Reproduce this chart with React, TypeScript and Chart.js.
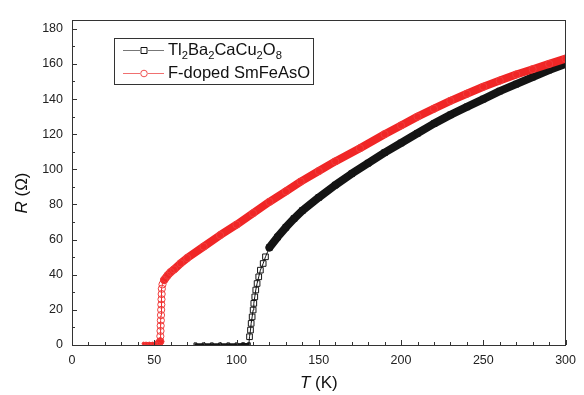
import React, { useEffect, useRef } from "react";
import { Chart, registerables } from "chart.js";

Chart.register(...registerables);

// Tl2Ba2CaCu2O8 (black open squares)
const T_TBCCO = [75, 80, 85, 90, 95, 100, 104, 107.5, 107.9, 108.5, 108.9, 109.5, 110.1, 110.5, 111.1, 111.7, 112.5, 113.5, 114.5, 116.2, 117.6, 120, 125, 130, 135, 140, 150, 160, 170, 180, 190, 200, 210, 220, 230, 240, 250, 260, 270, 280, 290, 300];
const R_TBCCO = [0.4, 0.4, 0.4, 0.4, 0.4, 0.4, 0.5, 0.5, 4.7, 8.5, 12.3, 16, 19.9, 23.7, 27.4, 31.3, 35, 38.8, 42.6, 46.4, 50.2, 55.5, 61.5, 67, 72, 76.5, 84, 91, 97.5, 103.5, 109.5, 115, 120.5, 126, 131, 135.5, 140, 144.5, 148.5, 152.5, 156.5, 160];

// F-doped SmFeAsO (red open circles)
const T_SMFEASO = [43.5, 45, 47, 49, 51, 52.5, 53.6, 53.7, 53.8, 53.9, 54, 54.1, 54.2, 54.3, 54.4, 54.5, 54.6, 55, 56, 58, 60, 62, 66, 70, 80, 90, 100, 110, 120, 130, 139, 150, 160, 175, 190, 200, 210, 220, 230, 240, 250, 260, 270, 280, 290, 300];
const R_SMFEASO = [0.8, 0.8, 0.8, 0.8, 0.8, 0.8, 2, 5, 8, 11, 14, 17, 20, 23, 26, 29, 32, 34.5, 37, 39.5, 41.5, 43, 46.5, 49.5, 56, 62.5, 68.5, 75, 81.5, 87.5, 93, 99, 104.5, 112, 120, 125, 130, 134.5, 139, 143, 147, 150.5, 154, 157, 160, 163];

const SERIES_LABELS = ["Tl2Ba2CaCu2O8", "F-doped SmFeAsO"];
const X_TICKS = [0, 50, 100, 150, 200, 250, 300];
const Y_TICKS = [0, 20, 40, 60, 80, 100, 120, 140, 160, 180];

const FONT = "'Liberation Sans', Arial, sans-serif";
const RED = "rgb(240,38,38)";
const BLACK = "rgb(20,20,20)";

function steepWidth(values: number[], wide: number, flat: number) {
  return (ctx: any) => {
    const i0 = ctx.p0DataIndex;
    const i1 = ctx.p1DataIndex;
    if (values[i0] < 1 && values[i1] < 1) return flat;
    const dx = Math.abs(ctx.p1.x - ctx.p0.x);
    const dy = Math.abs(ctx.p1.y - ctx.p0.y);
    return dy > 2.2 * dx ? 1 : wide;
  };
}

function drawSubText(ctx: CanvasRenderingContext2D, text: string, x: number, y: number, size: number) {
  // digits following letters are drawn as subscripts
  let cx = x;
  const parts = text.match(/[A-Za-z\- ]+|\d+/g) || [];
  for (const p of parts) {
    if (/^\d+$/.test(p)) {
      ctx.font = `${size * 0.68}px ${FONT}`;
      ctx.fillText(p, cx, y + size * 0.32);
    } else {
      ctx.font = `${size}px ${FONT}`;
      ctx.fillText(p, cx, y);
    }
    cx += ctx.measureText(p).width;
  }
}

const decorPlugin = {
  id: "decor",
  afterDraw(chart: any) {
    const { ctx, chartArea: a, scales } = chart;
    const xs = scales.x;
    const ys = scales.y;
    ctx.save();
    // frame
    ctx.strokeStyle = "#333";
    ctx.lineWidth = 1;
    ctx.strokeRect(Math.round(a.left) + 0.5, Math.round(a.top) + 0.5, Math.round(a.right - a.left) - 1, Math.round(a.bottom - a.top));
    // ticks (inward)
    ctx.beginPath();
    for (let v = 0; v <= 300; v += 10) {
      const px = Math.round(xs.getPixelForValue(v)) + 0.5;
      const len = v % 50 === 0 ? 5 : 3;
      ctx.moveTo(px, a.bottom);
      ctx.lineTo(px, a.bottom - len);
    }
    for (let v = 0; v <= 180; v += 10) {
      const py = Math.round(ys.getPixelForValue(v)) + 0.5;
      const len = v % 20 === 0 ? 5 : 3;
      ctx.moveTo(a.left, py);
      ctx.lineTo(a.left + len, py);
    }
    ctx.stroke();

    // axis titles
    ctx.fillStyle = "#111";
    ctx.textBaseline = "middle";
    const tSize = 17;
    {
      const italic = `italic ${tSize}px ${FONT}`;
      const normal = `${tSize}px ${FONT}`;
      ctx.font = italic;
      const w1 = ctx.measureText("T").width;
      ctx.font = normal;
      const w2 = ctx.measureText(" (K)").width;
      const cx = (a.left + a.right) / 2;
      const x0 = cx - (w1 + w2) / 2;
      ctx.textAlign = "left";
      ctx.font = italic;
      ctx.fillText("T", x0, 383);
      ctx.font = normal;
      ctx.fillText(" (K)", x0 + w1, 383);
    }
    {
      ctx.save();
      ctx.translate(22, 193);
      ctx.rotate(-Math.PI / 2);
      const italic = `italic ${tSize}px ${FONT}`;
      const normal = `${tSize}px ${FONT}`;
      ctx.font = italic;
      const w1 = ctx.measureText("R").width;
      ctx.font = normal;
      const w2 = ctx.measureText(" (Ω)").width;
      const x0 = -(w1 + w2) / 2;
      ctx.textAlign = "left";
      ctx.font = italic;
      ctx.fillText("R", x0, 0);
      ctx.font = normal;
      ctx.fillText(" (Ω)", x0 + w1, 0);
      ctx.restore();
    }

    // legend
    const lx = 114, ly = 38, lw = 199, lh = 46;
    ctx.fillStyle = "#fff";
    ctx.fillRect(lx, ly, lw, lh);
    ctx.strokeStyle = "#333";
    ctx.lineWidth = 1;
    ctx.strokeRect(lx + 0.5, ly + 0.5, lw, lh);
    const rows = [
      { y: 50.5, line: "#777", mark: "rect", mcol: "#111" },
      { y: 73.5, line: "#f07070", mark: "circle", mcol: "#f05050" },
    ];
    rows.forEach((r, i) => {
      ctx.strokeStyle = r.line;
      ctx.lineWidth = 1;
      ctx.beginPath();
      ctx.moveTo(123, r.y);
      ctx.lineTo(140, r.y);
      ctx.moveTo(148, r.y);
      ctx.lineTo(164, r.y);
      ctx.stroke();
      ctx.strokeStyle = r.mcol;
      ctx.fillStyle = "#fff";
      ctx.beginPath();
      if (r.mark === "rect") {
        ctx.rect(141, r.y - 3, 6, 6);
      } else {
        ctx.arc(144, r.y, 3.3, 0, Math.PI * 2);
      }
      ctx.fill();
      ctx.stroke();
      ctx.fillStyle = "#111";
      ctx.textAlign = "left";
      ctx.textBaseline = "middle";
      if (i === 0) drawSubText(ctx, SERIES_LABELS[0], 168, r.y, 16.5);
      else {
        ctx.font = `16.5px ${FONT}`;
        ctx.fillText(SERIES_LABELS[1], 168, r.y);
      }
    });
    ctx.restore();
  },
};

export default function App() {
  const ref = useRef<HTMLCanvasElement | null>(null);
  useEffect(() => {
    if (!ref.current) return;
    const blackData = T_TBCCO.map((t, i) => ({ x: t, y: R_TBCCO[i] }));
    const redData = T_SMFEASO.map((t, i) => ({ x: t, y: R_SMFEASO[i] }));
    const chart = new Chart(ref.current, {
      type: "line",
      data: {
        datasets: [
          {
            label: SERIES_LABELS[0],
            data: blackData,
            order: 1,
            borderColor: BLACK,
            backgroundColor: "rgba(0,0,0,0)",
            pointStyle: "rect",
            pointBorderColor: BLACK,
            pointBackgroundColor: "rgba(255,255,255,0)",
            pointBorderWidth: 1,
            pointRadius: (c: any) => (c.raw && c.raw.y < 1 ? 2 : 4),
            borderWidth: 8,
            borderCapStyle: "round",
            borderJoinStyle: "round",
            segment: { borderWidth: steepWidth(R_TBCCO, 8, 2) },
            tension: 0,
          } as any,
          {
            label: SERIES_LABELS[1],
            data: redData,
            order: 0,
            borderColor: RED,
            backgroundColor: "rgba(0,0,0,0)",
            pointStyle: "circle",
            pointBorderColor: "rgb(240,60,60)",
            pointBackgroundColor: "rgba(255,255,255,0)",
            pointBorderWidth: 1,
            pointRadius: (c: any) => (c.raw && c.raw.y < 1 ? 1.5 : 3.6),
            borderWidth: 8,
            borderCapStyle: "round",
            borderJoinStyle: "round",
            segment: { borderWidth: steepWidth(R_SMFEASO, 8, 3) },
            tension: 0,
          } as any,
        ],
      },
      options: {
        animation: false,
        responsive: false,
        maintainAspectRatio: false,
        layout: { padding: { top: 20, right: 18, left: 0, bottom: 0 } },
        plugins: { legend: { display: false }, tooltip: { enabled: false } },
        scales: {
          x: {
            type: "linear",
            min: 0,
            max: 300,
            afterFit: (s: any) => { s.height = 50; },
            afterBuildTicks: (s: any) => { s.ticks = X_TICKS.map((v) => ({ value: v })); },
            grid: { display: false, drawTicks: false },
            border: { display: false },
            ticks: { padding: 8, color: "#222", font: { family: FONT, size: 12.5 }, maxRotation: 0, autoSkip: false },
          },
          y: {
            type: "linear",
            min: 0,
            max: 185,
            afterFit: (s: any) => { s.width = 72; },
            afterBuildTicks: (s: any) => { s.ticks = Y_TICKS.map((v) => ({ value: v })); },
            grid: { display: false, drawTicks: false },
            border: { display: false },
            ticks: { padding: 9, color: "#222", font: { family: FONT, size: 12.5 }, autoSkip: false },
          },
        },
      },
      plugins: [decorPlugin],
    });
    return () => chart.destroy();
  }, []);
  return (
    <div style={{ position: "absolute", left: 0, top: 0, width: 584, height: 395, background: "#fff" }}>
      <canvas ref={ref} width={584} height={395} style={{ width: 584, height: 395 }} />
    </div>
  );
}
